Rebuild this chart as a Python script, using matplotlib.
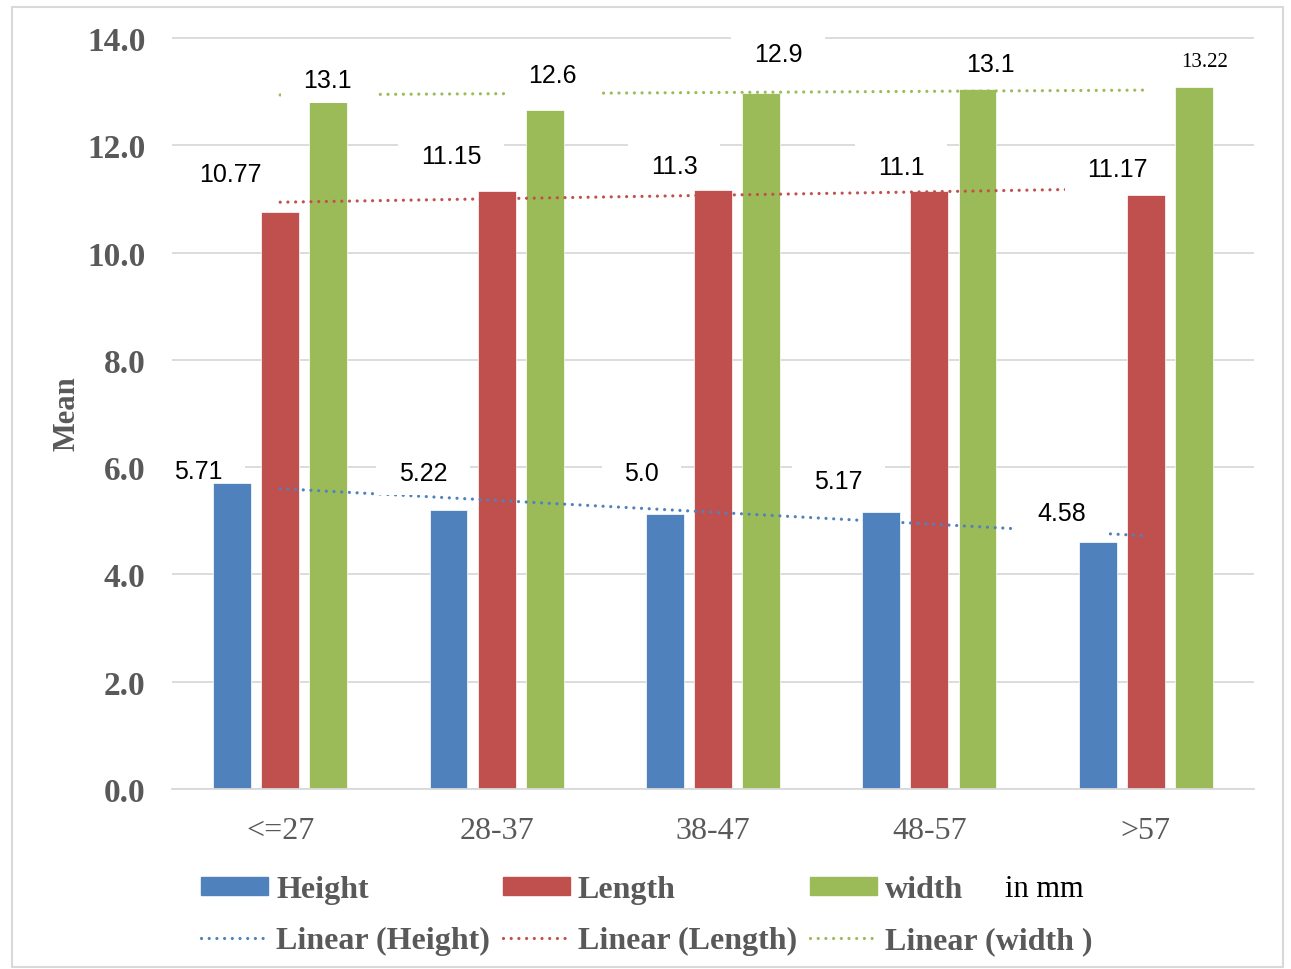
import numpy as np
import matplotlib.pyplot as plt
from matplotlib.patches import Rectangle
from matplotlib.lines import Line2D
from matplotlib.path import Path

groups = ["<=27", "28-37", "38-47", "48-57", ">57"]
height = [5.70, 5.21, 5.12, 5.16, 4.61]
length = [10.76, 11.14, 11.17, 11.15, 11.08]
width = [12.80, 12.66, 12.97, 13.05, 13.08]

# linear trend lines, value at first and last group
trend_height = [5.60, 4.72]
trend_length = [10.94, 11.20]
trend_width = [12.94, 13.03]

# data labels as typed on the chart
labels_height = ["5.71", "5.22", "5.0", "5.17", "4.58"]
labels_length = ["10.77", "11.15", "11.3", "11.1", "11.17"]
labels_width = ["13.1", "12.6", "12.9", "13.1", "13.22"]

# where the labels sit (x offset from group, y in data units)
lab_dx = {"h": [-0.38, -0.34, -0.33, -0.42, -0.39],
          "l": [-0.23, -0.21, -0.18, -0.13, -0.13],
          "w": [0.22, 0.26, 0.30, 0.28, 0.27]}
lab_y = {"h": [5.92, 5.90, 5.90, 5.75, 5.14],
         "l": [11.47, 11.80, 11.62, 11.60, 11.56],
         "w": [13.21, 13.32, 13.70, 13.51, 13.57]}

blue = "#4F81BD"
red = "#C0504D"
green = "#9BBB59"
grey = "#595959"
serif = "Liberation Serif"
sans = "Liberation Sans"


def label_box(x0, y0, width, height, mutation_size):
    # white box, wide left/right and tighter top/bottom like the excel labels
    px = 0.9 * mutation_size
    py = 0.42 * mutation_size
    x0, y0 = x0 - px, y0 - py
    x1, y1 = x0 + width + 2 * px, y0 + height + 2 * py
    return Path([(x0, y0), (x1, y0), (x1, y1), (x0, y1), (x0, y0)], closed=True)


fig = plt.figure(figsize=(12.91, 9.70), dpi=100)
ax = fig.add_axes([172/1291, 1-790/970, (1254-172)/1291, (790-38)/970])

x = np.arange(len(groups))
off = 0.222
w = 0.175
ax.bar(x - off, height, w, color=blue, edgecolor="white", linewidth=0.5, zorder=2)
ax.bar(x, length, w, color=red, edgecolor="white", linewidth=0.5, zorder=2)
ax.bar(x + off, width, w, color=green, edgecolor="white", linewidth=0.5, zorder=2)

dots = (0, (0.01, 2.4))
ends = [x[0], x[-1]]
for tr, c in [(trend_height, blue), (trend_length, red), (trend_width, green)]:
    ax.plot(ends, tr, color=c, lw=2.3, linestyle=dots, dash_capstyle="round", zorder=3)

box = dict(boxstyle=label_box, facecolor="white", edgecolor="none")
for key, labs in [("h", labels_height), ("l", labels_length), ("w", labels_width)]:
    for i, t in enumerate(labs):
        if t == "13.22":
            fam, fs = serif, 15
        else:
            fam, fs = sans, 18
        # first label sits beside its bar, keep its box behind the bars
        z = 1.5 if (key == "h" and i == 0) else 4
        ax.text(i + lab_dx[key][i], lab_y[key][i], t, ha="center", va="center",
                fontsize=fs, family=fam, color="black", bbox=box, zorder=z)

ax.set_xlim(-0.5, 4.5)
ax.set_ylim(0, 14.02)
ax.set_yticks(np.arange(0, 14.1, 2))
ax.set_yticklabels(["%.1f" % v for v in np.arange(0, 14.1, 2)],
                   fontsize=24, family=serif, fontweight="bold", color=grey)
ax.set_xticks(x)
ax.set_xticklabels(groups, fontsize=23, family=serif, color=grey)
ax.tick_params(axis="both", length=0)
ax.tick_params(axis="y", pad=19)
ax.tick_params(axis="x", pad=19.5)
ax.grid(axis="y", color="#D9D9D9", lw=1.3, zorder=0)
ax.set_axisbelow(True)
for s in ["top", "right", "left"]:
    ax.spines[s].set_visible(False)
ax.spines["bottom"].set_color("#D9D9D9")
ax.spines["bottom"].set_linewidth(1.3)
ax.set_ylabel("Mean", fontsize=22, family=serif, fontweight="bold", color=grey, labelpad=4)

handles = [Rectangle((0, 0), 1, 1, color=blue),
           Line2D([], [], color=blue, lw=2.3, linestyle=dots, dash_capstyle="round"),
           Rectangle((0, 0), 1, 1, color=red),
           Line2D([], [], color=red, lw=2.3, linestyle=dots, dash_capstyle="round"),
           Rectangle((0, 0), 1, 1, color=green),
           Line2D([], [], color=green, lw=2.3, linestyle=dots, dash_capstyle="round")]
names = ["Height", "Linear (Height)", "Length", "Linear (Length)", "width", "Linear (width )"]
leg = fig.legend(handles, names, ncol=3, loc="upper left",
                 bbox_to_anchor=(201/1291, 1-876/970), frameon=False,
                 borderpad=0, borderaxespad=0, handlelength=2.1, handleheight=0.5,
                 handletextpad=0.25, columnspacing=0.4, labelspacing=0.7,
                 prop=dict(family=serif, weight="bold", size=23))
for t in leg.get_texts():
    t.set_color(grey)
fig.text(1005/1291, 1-890/970, "in mm", fontsize=22, family=serif, color="black",
         ha="left", va="center")

fig.patches.append(Rectangle((12/1291, 1-968/970), 1271/1291, 960/970,
                             transform=fig.transFigure, fill=False,
                             edgecolor="#D9D9D9", lw=1.5))

fig.savefig("out.png", dpi=100)
